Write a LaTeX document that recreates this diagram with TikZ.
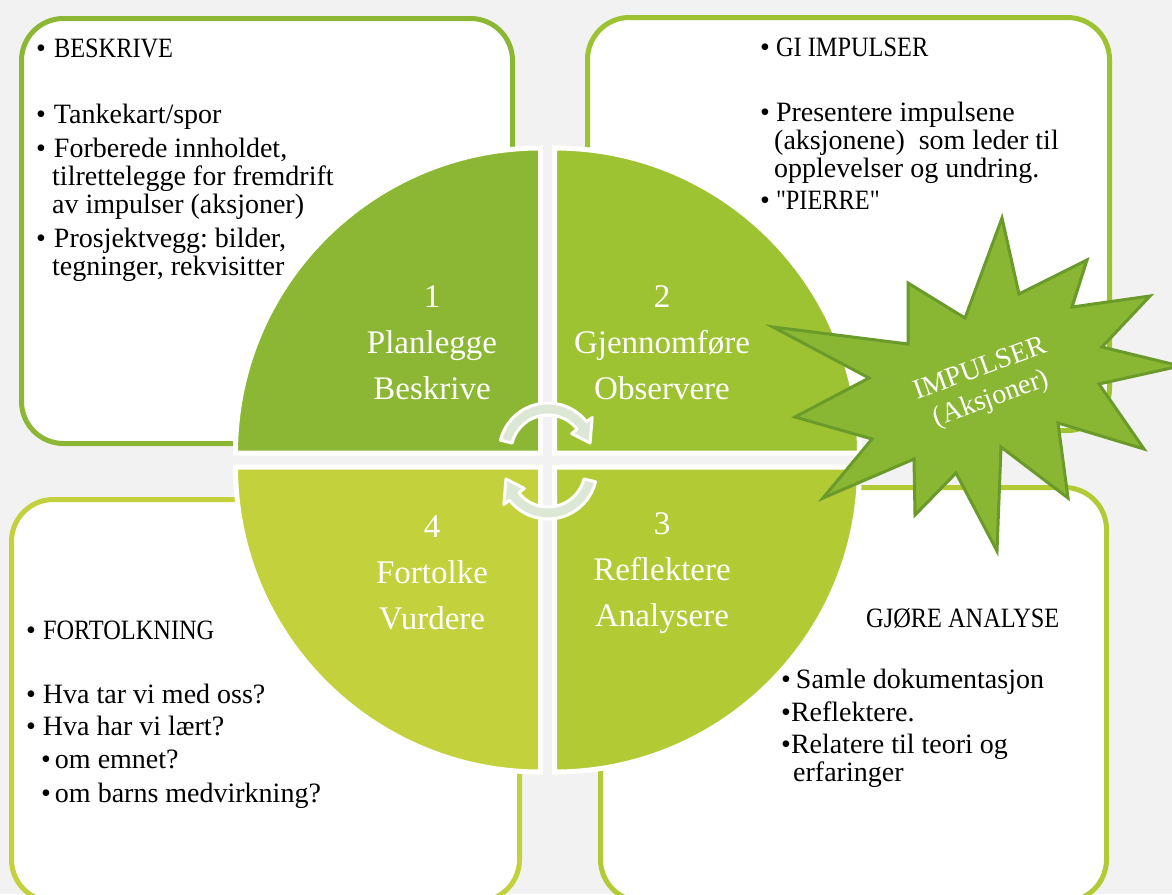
\documentclass[tikz,border=0pt]{standalone}
\usepackage{fontspec}
\setmainfont{Liberation Serif}
\newfontfamily\narrowcaps[FakeStretch=0.87]{Liberation Serif}
\frenchspacing

\definecolor{bggrey}{HTML}{F2F2F2}
\definecolor{qone}{HTML}{8CB734}
\definecolor{qtwo}{HTML}{9DC332}
\definecolor{qthree}{HTML}{B2CB35}
\definecolor{qfour}{HTML}{C2D13C}
\definecolor{burstfill}{HTML}{89B733}
\definecolor{burstline}{HTML}{6A9A2A}
\definecolor{turnfill}{HTML}{DCE8D5}

\tikzset{
  box/.style={fill=white, line width=5pt, rounded corners=42pt},
  quarter/.style={draw=white, line width=5pt},
  boxtext/.style={anchor=north west, inner sep=0pt, align=left, font=\fontsize{28}{28}\selectfont},
  phase/.style={text=white, inner sep=0pt, align=center, font=\fontsize{33}{46}\selectfont},
  turn/.style={fill=turnfill, draw=white, line width=3pt, line join=round},
  burst/.style={fill=burstfill, draw=burstline, line width=3pt, line join=miter},
}

\begin{document}
\begin{tikzpicture}[x=1pt, y=-1pt]

\useasboundingbox (0,0) rectangle (1172,894);
\fill [bggrey] (0,0) rectangle (1172,894);

% the four boxes
\draw [box, draw=qone] (21.5,18.5) rectangle (512.5,443.5);
\draw [box, draw=qtwo] (587.5,17.5) rectangle (1109.5,430.5);
\draw [box, draw=qfour] (11.5,499.5) rectangle (519.5,901.5);
\draw [box, draw=qthree] (600.5,487.5) rectangle (1106.5,901.5);

\node [boxtext] (beskrive) at (36,39) {\textbullet\hspace{8pt}{\narrowcaps BESKRIVE}\\[38pt]
\textbullet\hspace{8pt}Tankekart/spor\\[6pt]
\textbullet\hspace{8pt}Forberede innholdet,\\
\hspace*{16pt}tilrettelegge for fremdrift\\
\hspace*{16pt}av impulser (aksjoner)\\[6pt]
\textbullet\hspace{8pt}Prosjektvegg: bilder,\\
\hspace*{16pt}tegninger, rekvisitter};

\node [boxtext] (impulser) at (760,38) {\textbullet\hspace{6pt}{\narrowcaps GI IMPULSER}\\[37pt]
\textbullet\hspace{6pt}Presentere impulsene\\
\hspace*{14pt}(aksjonene)\ \ som leder til\\
\hspace*{14pt}opplevelser og undring.\\[4pt]
\textbullet\hspace{6pt}{\narrowcaps\symbol{34}PIERRE\symbol{34}}};

\node [boxtext] (fortolkning) at (26,621) {\textbullet\hspace{7pt}{\narrowcaps FORTOLKNING}\\[36pt]
\textbullet\hspace{7pt}Hva tar vi med oss?\\[4pt]
\textbullet\hspace{7pt}Hva har vi lært?\\[5pt]
\hspace*{15pt}\textbullet\hspace{4pt}om emnet?\\[6pt]
\hspace*{15pt}\textbullet\hspace{4pt}om barns medvirkning?};

\node [boxtext] (analyse) at (781,608) {\hspace*{85pt}{\narrowcaps GJØRE ANALYSE}\\[33pt]
\textbullet\hspace{5pt}Samle dokumentasjon\\[5pt]
\textbullet Reflektere.\\[4pt]
\textbullet Relatere til teori og\\
\hspace*{12pt}erfaringer};

% the circle in four parts
\draw [quarter, fill=qone] (540.5,453) -- (235.5,453) arc[start angle=180, end angle=270, radius=305] -- cycle;
\draw [quarter, fill=qtwo] (554.5,453) -- (554.5,148) arc[start angle=270, end angle=360, radius=305] -- cycle;
\draw [quarter, fill=qthree] (554.5,467) -- (859.5,467) arc[start angle=0, end angle=90, radius=305] -- cycle;
\draw [quarter, fill=qfour] (540.5,467) -- (540.5,772) arc[start angle=90, end angle=180, radius=305] -- cycle;

\node [phase] (plan) at (432,343) {1\\Planlegge\\Beskrive};
\node [phase] (gjen) at (662,343) {2\\Gjennomføre\\Observere};
\node [phase] (refl) at (662,573) {3\\Reflektere\\Analysere};
\node [phase] (fort) at (432,573) {4\\Fortolke\\Vurdere};

% turning arrows
\begin{scope}[shift={(548,452)}]
\draw [turn] (-166:49) arc[start angle=-166, end angle=-38, radius=49] -- (-38:56) -- (-12:43) -- (-38:30) -- (-38:37) arc[start angle=-38, end angle=-166, radius=37] -- cycle;
\end{scope}
\begin{scope}[shift={(548,470)}, rotate=180]
\draw [turn] (-166:49) arc[start angle=-166, end angle=-38, radius=49] -- (-38:56) -- (-12:43) -- (-38:30) -- (-38:37) arc[start angle=-38, end angle=-166, radius=37] -- cycle;
\end{scope}

% the burst
\draw [burst] (1002,218) -- (1019,294) -- (1087,260) -- (1072,307) -- (1150,296) -- (1102,347)
  -- (1180,366) -- (1099,384) -- (1144,449) -- (1058,423) -- (1068,498) -- (1001,447)
  -- (997,551) -- (956,473) -- (915,515) -- (914,459) -- (823,498) -- (872,439)
  -- (795,417) -- (869,378) -- (773,327) -- (908,344) -- (908,283) -- (965,318) -- cycle;

\node [rotate=20, text=white, align=center, inner sep=0pt, font=\fontsize{28}{32}\selectfont] (aksjoner) at (986,385) {IMPULSER\\(Aksjoner)};

\end{tikzpicture}
\end{document}
